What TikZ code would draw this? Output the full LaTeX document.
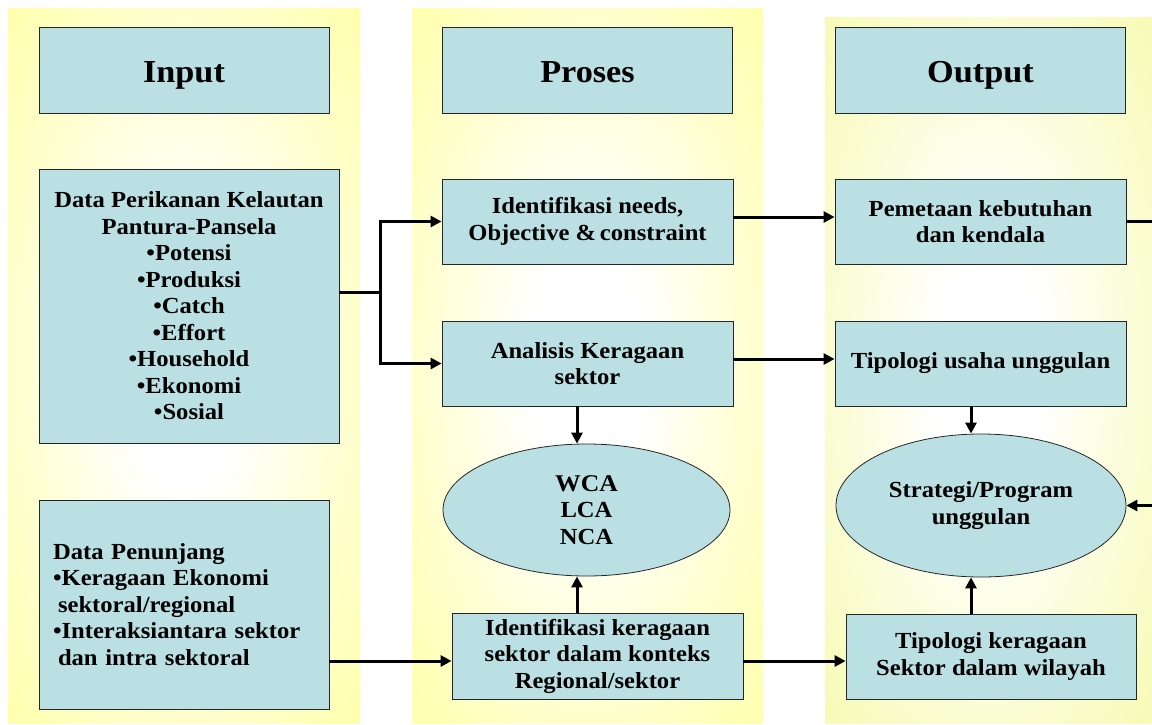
\documentclass[tikz,border=0pt]{standalone}
\usepackage{fontspec}
\setmainfont{Liberation Serif}[FakeStretch=1.07]
\usetikzlibrary{arrows.meta,shapes.geometric}

\definecolor{boxfill}{RGB}{187,224,227}
\definecolor{panelA}{RGB}{255,255,153}
\definecolor{panelB}{RGB}{245,250,163}

% soft light centre of the three column panels
\pgfdeclareradialshading{glowA}{\pgfpoint{0bp}{0bp}}{color(0bp)=(white); color(8bp)=(white); color(42bp)=(panelA); color(100bp)=(panelA)}
\pgfdeclareradialshading{glowB}{\pgfpoint{0bp}{0bp}}{color(0bp)=(white); color(8bp)=(white); color(42bp)=(panelB); color(100bp)=(panelB)}

\begin{document}
\begin{tikzpicture}[x=1pt,y=-1pt,
  box/.style={draw=black!85, line width=0.8pt, fill=boxfill, inner sep=0pt,
              align=center, font=\bfseries\fontsize{23}{26.5}\selectfont},
  titlebox/.style={box, minimum width=290pt, minimum height=86pt,
              text height=28pt, text depth=4pt,
              font=\bfseries\fontsize{32}{38}\selectfont},
  stepbox/.style={box, minimum width=291pt, minimum height=85pt},
  oval/.style={box, ellipse},
  arr/.style={line width=3pt, -{Triangle[length=11pt,width=11pt]}},
  link/.style={line width=3pt}]

\useasboundingbox (0,0) rectangle (1152,724);
\fill[white] (0,0) rectangle (1152,724);

% column panels
\shade[shading=glowA] (8,8) rectangle (360,723);
\shade[shading=glowA] (412,8) rectangle (763,723);
\shade[shading=glowB] (825,17) rectangle (1152,723);

% column headings
\node[titlebox] (input)  at (184,70)   {Input};
\node[titlebox] (proses) at (587.5,70) {Proses};
\node[titlebox] (output) at (980.5,70) {Output};

% input column
\node[box, minimum width=300pt, minimum height=274pt] (dataikan) at (189,306)
  {Data Perikanan Kelautan\\Pantura-Pansela\\•Potensi\\•Produksi\\•Catch\\•Effort\\•Household\\•Ekonomi\\•Sosial};
\node[box, minimum width=290pt, minimum height=209pt, inner xsep=14pt,
      text width=262pt, align=left] (datapen) at (184,604.5)
  {Data Penunjang\\•Keragaan Ekonomi\\\hspace*{5pt}sektoral/regional\\•Interaksiantara sektor\\\hspace*{5pt}dan intra sektoral};

% process column
\node[stepbox] (needs)    at (587.5,221.5) {Identifikasi needs,\\Objective \&\,constraint};
\node[stepbox] (analisis) at (587.5,363.5) {Analisis Keragaan\\sektor};
\node[oval, minimum width=287pt, minimum height=132pt] (wca) at (586.5,510)
  {\fontsize{24}{31}\selectfont WCA\\LCA\\NCA};
\node[stepbox, minimum height=86pt] (idker) at (597.5,656)
  {Identifikasi keragaan\\sektor dalam konteks\\Regional/sektor};

% output column
\node[stepbox] (pemetaan) at (980.5,221.5) {Pemetaan kebutuhan\\dan kendala};
\node[stepbox] (tipusaha) at (980.5,363.5) {Tipologi usaha unggulan};
\node[oval, minimum width=290pt, minimum height=143pt] (strategi) at (981,505.5)
  {Strategi/Program\\unggulan};
\node[stepbox, minimum width=290pt] (tipker) at (991,656.5)
  {Tipologi keragaan\\Sektor dalam wilayah};

% connectors
\coordinate (jn) at (380,292);
\draw[link] (dataikan.east |- jn) -- (jn);
\draw[arr] (jn) |- (needs.west);
\draw[arr] (jn) |- (analisis.west);

\draw[arr] ([yshift=4.5pt]needs.east) -- ([yshift=4.5pt]pemetaan.west);
\draw[arr] ([yshift=4.5pt]analisis.east) -- ([yshift=4.5pt]tipusaha.west);

\coordinate (edgeA) at (1152,221.5);
\coordinate (edgeB) at (1152,505.5);
\draw[link] (pemetaan.east) -- (edgeA);
\draw[arr] (edgeB) -- (strategi.east);

\draw[arr] ([xshift=-10.5pt]analisis.south) -- ([xshift=-9.5pt]wca.north);
\draw[arr] ([xshift=-20.5pt]idker.north) -- ([xshift=-9.5pt]wca.south);
\draw[arr] ([xshift=-9.5pt]tipusaha.south) -- ([xshift=-10pt]strategi.north);
\draw[arr] ([xshift=-20pt]tipker.north) -- ([xshift=-10pt]strategi.south);

\draw[arr] ([yshift=-5pt]idker.west -| datapen.east) -- ([yshift=-5pt]idker.west);
\draw[arr] ([yshift=-5pt]idker.east) -- ([yshift=-5pt]idker.east -| tipker.west);
\end{tikzpicture}
\end{document}
